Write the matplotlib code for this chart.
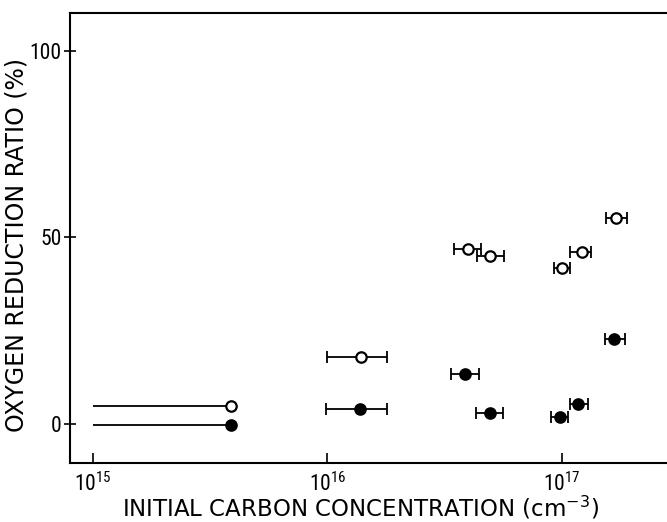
import matplotlib
matplotlib.use("Agg")
import matplotlib.pyplot as plt
from matplotlib import font_manager
import numpy as np

# ---- data ----
# open circles
open_x = [3.9e15, 1.39e16, 3.96e16, 4.94e16, 1.00e17, 1.21e17, 1.69e17]
open_y = [4.8, 17.8, 46.9, 45.0, 41.8, 46.0, 55.3]
open_xlo = [1.0e15, 1.0e16, 3.47e16, 4.34e16, 9.25e16, 1.08e17, 1.54e17]
open_xhi = [3.9e15, 1.79e16, 4.49e16, 5.65e16, 1.08e17, 1.32e17, 1.88e17]
open_caps = [False, True, True, True, True, True, True]

# filled circles
fill_x = [3.9e15, 1.38e16, 3.86e16, 4.90e16, 9.75e16, 1.17e17, 1.66e17]
fill_y = [-0.3, 4.0, 13.2, 2.8, 1.8, 5.2, 22.7]
fill_xlo = [1.0e15, 0.99e16, 3.35e16, 4.31e16, 8.98e16, 1.08e17, 1.52e17]
fill_xhi = [3.9e15, 1.79e16, 4.42e16, 5.57e16, 1.06e17, 1.29e17, 1.85e17]
fill_caps = [False, True, True, True, True, True, True]

xticks = [1e15, 1e16, 1e17]
xticklabels = [r"$\mathregular{10^{15}}$", r"$\mathregular{10^{16}}$", r"$\mathregular{10^{17}}$"]
yticks = [0, 50, 100]
yticklabels = ["0", "50", "100"]

xlabel = "INITIAL CARBON CONCENTRATION (cm$^{-3}$)"
ylabel = "OXYGEN REDUCTION RATIO (%)"

# pick a narrow font for tick labels if one is installed
names = {f.name for f in font_manager.fontManager.ttflist}
narrow = None
for cand in ["Liberation Sans Narrow", "Roboto Condensed", "Open Sans Condensed", "DejaVu Sans Condensed"]:
    if cand in names:
        narrow = cand
        break
if narrow is None:
    tickkw = dict(family="DejaVu Sans", fontstretch="condensed")
else:
    tickkw = dict(family=[narrow, "DejaVu Sans"])

# ---- figure ----
fig = plt.figure(figsize=(6.67, 5.22), dpi=100)
ax = fig.add_axes([0.105, 0.113, 0.895, 0.862])
ax.set_xscale("log")
ax.set_xlim(10 ** 14.904, 10 ** 17.446)
ax.set_ylim(-10.6, 110.3)

lw = 1.3
def draw(xs, ys, xlo, xhi, caps, face):
    for x, y, lo, hi, cap in zip(xs, ys, xlo, xhi, caps):
        xe = np.array([[x - lo], [hi - x]])
        ax.errorbar([x], [y], xerr=xe, fmt="none", ecolor="black",
                    elinewidth=lw, capsize=4.5 if cap else 0, capthick=lw, zorder=2)
    ax.plot(xs, ys, linestyle="none", marker="o", markersize=7.5,
            markerfacecolor=face, markeredgecolor="black", markeredgewidth=1.6, zorder=3)

draw(open_x, open_y, open_xlo, open_xhi, open_caps, "white")
draw(fill_x, fill_y, fill_xlo, fill_xhi, fill_caps, "black")

for s in ["left", "bottom", "top"]:
    ax.spines[s].set_linewidth(1.5)
ax.spines["right"].set_visible(False)

ax.set_xticks(xticks)
ax.set_xticklabels(xticklabels, fontsize=15.5, **tickkw)
ax.xaxis.set_minor_locator(matplotlib.ticker.NullLocator())
ax.set_yticks(yticks)
ax.set_yticklabels(yticklabels, fontsize=15.5, **tickkw)
ax.tick_params(axis="x", direction="in", length=7, width=1.2, pad=7)
ax.tick_params(axis="y", direction="inout", length=8, width=1.2, pad=2)

ax.set_xlabel(xlabel, fontsize=16.5, family="DejaVu Sans")
ax.xaxis.label.set_va("baseline")
ax.xaxis.set_label_coords(0.486, -0.119)
ax.set_ylabel(ylabel, fontsize=17, family="DejaVu Sans")
ax.yaxis.set_label_coords(-0.09, 0.484)
ax.yaxis.label.set_va("center")

fig.savefig("out.png", dpi=100)
